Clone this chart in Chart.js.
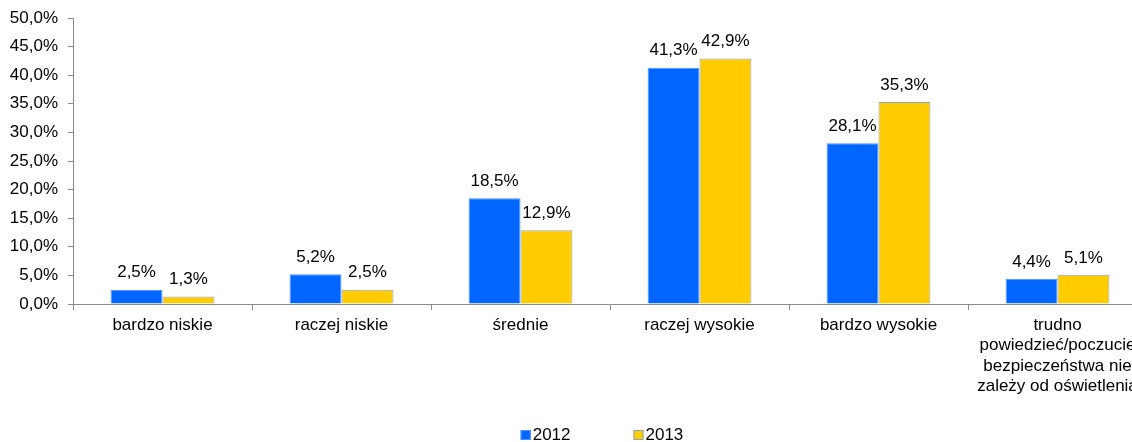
<!DOCTYPE html>
<html>
<head>
<meta charset="utf-8">
<script src="https://cdn.jsdelivr.net/npm/chart.js@4/dist/chart.umd.min.js"></script>
<style>
  html, body { margin: 0; padding: 0; background: #fff; }
  #wrap { width: 1132px; height: 442px; overflow: hidden; position: relative; }
  canvas { display: block; }
</style>
</head>
<body>
<div id="wrap"><canvas id="chart" width="1147" height="442"></canvas></div>
<script>
const categories = [
    'bardzo niskie',
    'raczej niskie',
    'średnie',
    'raczej wysokie',
    'bardzo wysokie',
    ['trudno', 'powiedzieć/poczucie', 'bezpieczeństwa nie', 'zależy od oświetlenia']
];
const values2012 = [2.5, 5.2, 18.5, 41.3, 28.1, 4.4];
const values2013 = [1.3, 2.5, 12.9, 42.9, 35.3, 5.1];
const seriesNames = ['2012', '2013'];

const FONT = "'Liberation Sans', Arial, sans-serif";
const FONT_SIZE = 17;
const fmt = v => v.toFixed(1).replace('.', ',') + '%';

// value labels above each bar
const barLabels = {
    id: 'barLabels',
    afterDatasetsDraw(chart) {
        const ctx = chart.ctx;
        ctx.save();
        ctx.font = FONT_SIZE + 'px ' + FONT;
        ctx.fillStyle = '#000';
        ctx.textAlign = 'center';
        ctx.textBaseline = 'middle';
        chart.data.datasets.forEach((ds, i) => {
            chart.getDatasetMeta(i).data.forEach((bar, j) => {
                ctx.fillText(fmt(ds.data[j]), bar.x, bar.y - 17);
            });
        });
        ctx.restore();
    }
};

// legend under the x labels, wide spacing like the original
const bottomLegend = {
    id: 'bottomLegend',
    afterDraw(chart) {
        const ctx = chart.ctx;
        const box = 10, gap = 2, spacing = 63;
        const cx = 602, cy = 435;
        ctx.save();
        ctx.font = FONT_SIZE + 'px ' + FONT;
        ctx.textBaseline = 'middle';
        ctx.textAlign = 'left';
        const items = chart.data.datasets.map(ds => ({
            ds, w: box + gap + ctx.measureText(ds.label).width
        }));
        const total = items.reduce((s, it) => s + it.w, 0) + spacing * (items.length - 1);
        let x = cx - total / 2;
        items.forEach(it => {
            ctx.fillStyle = it.ds.backgroundColor;
            ctx.fillRect(x, cy - box / 2, box, box);
            ctx.strokeStyle = it.ds.borderColor;
            ctx.lineWidth = 1;
            ctx.strokeRect(x + 0.5, cy - box / 2 + 0.5, box - 1, box - 1);
            ctx.fillStyle = '#000';
            ctx.fillText(it.ds.label, x + box + gap, cy);
            x += it.w + spacing;
        });
        ctx.restore();
    }
};

const ctx = document.getElementById('chart').getContext('2d');
new Chart(ctx, {
    type: 'bar',
    data: {
        labels: categories,
        datasets: [
            {
                label: seriesNames[0],
                data: values2012,
                backgroundColor: '#0066FF',
                borderColor: '#4d94ff',
                borderWidth: 1
            },
            {
                label: seriesNames[1],
                data: values2013,
                backgroundColor: '#FFCC00',
                borderColor: '#8ea2c4',
                borderWidth: 1
            }
        ]
    },
    plugins: [barLabels, bottomLegend],
    options: {
        responsive: false,
        animation: false,
        layout: { padding: { top: 18, left: 0, right: 0, bottom: 0 } },
        datasets: {
            bar: { categoryPercentage: 0.58, barPercentage: 1.0 }
        },
        plugins: {
            tooltip: { enabled: false },
            legend: { display: false }
        },
        scales: {
            x: {
                offset: true,
                grid: { display: true, drawOnChartArea: false, tickLength: 6, color: '#8c8c8c' },
                border: { display: true, color: '#8c8c8c' },
                ticks: {
                    color: '#000',
                    font: { family: FONT, size: FONT_SIZE },
                    maxRotation: 0,
                    autoSkip: false,
                    padding: 5
                },
                afterFit(scale) {
                    scale.height = 442 - 304;
                }
            },
            y: {
                min: 0,
                max: 50,
                grid: { display: true, drawOnChartArea: false, tickLength: 5, color: '#8c8c8c' },
                border: { display: true, color: '#8c8c8c' },
                ticks: {
                    stepSize: 5,
                    color: '#000',
                    font: { family: FONT, size: FONT_SIZE },
                    padding: 10,
                    callback: v => fmt(v)
                },
                afterFit(scale) {
                    scale.width = 73;
                    scale.paddingTop = 0;
                    scale.paddingBottom = 0;
                }
            }
        }
    }
});
</script>
</body>
</html>
